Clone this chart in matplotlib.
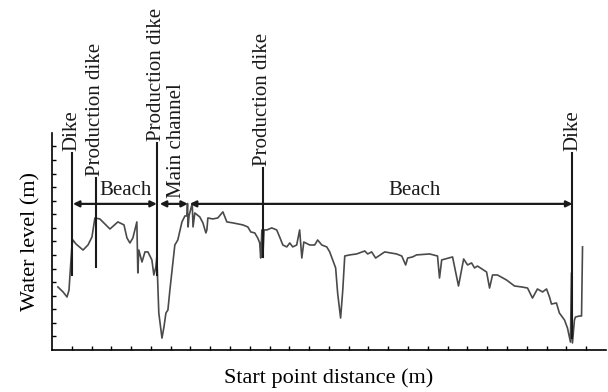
import matplotlib
matplotlib.use('Agg')
import matplotlib.pyplot as plt
import numpy as np

plt.rcParams['font.family'] = ['Liberation Serif', 'DejaVu Serif']

# Profile of the water level along the section (distance in m, level in m)
dist = [30, 56, 76, 86, 96, 101, 106, 121, 157, 182, 202, 217, 242, 293, 333,
        364, 379, 394, 409, 429, 434, 439, 455, 470, 485, 505, 515, 525, 530,
        540, 556, 566, 576, 586, 596, 611, 621, 636, 657, 672, 682, 685, 688,
        693, 709, 713, 722, 747, 763, 778, 783, 788, 813, 838, 864, 884, 914,
        965, 990, 1005, 1025, 1040, 1050, 1055, 1061, 1066, 1072, 1086, 1111,
        1136, 1151, 1167, 1187, 1202, 1217, 1237, 1252, 1263, 1273, 1303, 1328,
        1343, 1364, 1389, 1404, 1419, 1434, 1444, 1459, 1470, 1480, 1505, 1540,
        1581, 1596, 1616, 1636, 1682, 1742, 1768, 1788, 1798, 1823, 1843, 1909,
        1949, 1959, 1970, 2025, 2055, 2081, 2101, 2121, 2136, 2151, 2197, 2212,
        2227, 2252, 2298, 2338, 2374, 2404, 2429, 2454, 2480, 2500, 2515, 2525,
        2550, 2565, 2591, 2606, 2621, 2626, 2631, 2641, 2646, 2666, 2677, 2682]
level = [4.65, 4.28, 3.91, 4.42, 6.64, 7.74, 8.11, 7.82, 7.37, 7.74, 8.33, 9.73,
         9.66, 8.92, 9.44, 9.22, 8.26, 7.89, 8.26, 9.44, 5.68, 7.37, 6.49, 7.23,
         7.23, 6.64, 5.53, 6.12, 6.86, 2.73, 0.88, 1.70, 2.73, 2.95, 4.42, 6.42,
         7.74, 8.11, 9.44, 9.88, 9.88, 10.8, 9.07, 9.90, 10.8, 9.07, 10.1, 9.81,
         9.37, 8.63, 8.85, 9.73, 9.66, 9.73, 10.18, 9.44, 9.37, 9.22, 9.07, 8.70,
         8.63, 8.26, 7.90, 6.78, 8.85, 6.86, 8.85, 8.85, 9.00, 8.85, 8.33, 7.74,
         7.60, 7.89, 7.60, 7.74, 8.85, 6.78, 7.96, 7.74, 7.74, 8.11, 7.74, 7.60,
         7.23, 6.64, 6.05, 4.20, 2.36, 4.42, 6.93, 7.01, 7.08, 7.30, 7.08, 7.23,
         6.78, 7.23, 7.08, 6.93, 6.27, 6.78, 6.86, 7.01, 7.08, 6.93, 5.31, 6.64,
         6.86, 4.72, 6.71, 6.27, 6.42, 6.05, 6.19, 5.75, 4.57, 5.53, 5.53, 5.16,
         4.72, 4.65, 4.57, 3.83, 4.50, 4.28, 4.50, 3.91, 3.39, 3.47, 2.73, 2.21,
         1.62, 0.59, 5.68, 0.52, 2.21, 2.43, 2.51, 2.51, 7.60]

# Structures marked along the section
mark_names = ['Dike', 'Production dike', 'Production dike', 'Production dike', 'Dike']
mark_x = [101, 222, 530, 1066, 2631]
mark_top = [14.53, 12.68, 15.27, 13.42, 14.53]
mark_bottom = [5.53, 6.12, 5.53, 6.86, 0.88]

# Reaches (arrows) between structures
reach_names = ['Beach', 'Main channel', 'Beach']
reach_start = [106, 545, 697]
reach_end = [530, 687, 2631]
reach_label_x = [374, 631, 1833]
reach_level = 10.77

fig = plt.figure(figsize=(6.08, 3.92), dpi=100)
ax = fig.add_axes([0.0855, 0.107, 0.911, 0.554])

ax.plot(dist, level, color='#4a4a4a', lw=1.2)

for name, x, top, bot in zip(mark_names, mark_x, mark_top, mark_bottom):
    ax.plot([x, x], [bot, top], color='#1a1a1a', lw=1.5, clip_on=False)
    ax.text(x, top + 0.15, name, rotation=90, ha='center', va='bottom',
            fontsize=15, color='#1a1a1a', clip_on=False)

for name, x0, x1, xl in zip(reach_names, reach_start, reach_end, reach_label_x):
    ax.annotate('', xy=(x1, reach_level), xytext=(x0, reach_level),
                arrowprops=dict(arrowstyle='<|-|>', color='#1a1a1a', lw=1.6,
                                mutation_scale=9, shrinkA=0, shrinkB=0))
    if name == 'Main channel':
        ax.text(xl, reach_level + 0.4, name, rotation=90, ha='center',
                va='bottom', fontsize=15, color='#1a1a1a')
    else:
        ax.text(xl, reach_level + 0.95, name, ha='center', va='center',
                fontsize=15, color='#1a1a1a')

ax.set_xlim(0, 2800)
ax.set_ylim(0, 16)
ax.set_xticks(np.arange(100, 2800, 100))
ax.set_yticks(np.arange(1, 16, 1))
ax.tick_params(direction='in', length=3, width=1, labelbottom=False, labelleft=False)
for s in ['top', 'right']:
    ax.spines[s].set_visible(False)
for s in ['left', 'bottom']:
    ax.spines[s].set_linewidth(1.2)

ax.set_xlabel('Start point distance (m)', fontsize=16, labelpad=13)
ax.set_ylabel('Water level (m)', fontsize=16, labelpad=8)

fig.savefig('out.png', dpi=100)
